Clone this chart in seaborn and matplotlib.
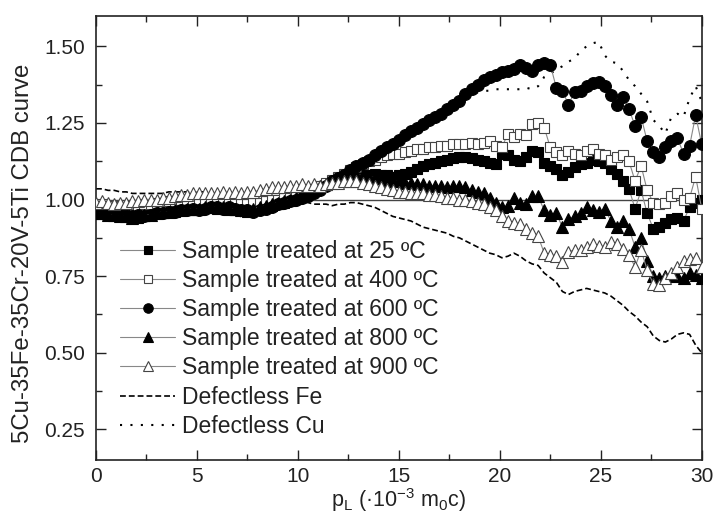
import numpy as np
import pandas as pd
import matplotlib
matplotlib.use("Agg")
import matplotlib.pyplot as plt
import seaborn as sns

# x positions (p_L, 10^-3 m0c), step 0.3
p_l = np.round(np.arange(0, 30.0001, 0.3), 2)

s25 = [0.96, 0.955, 0.955, 0.95, 0.95, 0.945, 0.945, 0.94, 0.945, 0.95,
       0.955, 0.955, 0.96, 0.96, 0.965, 0.97, 0.965, 0.97, 0.975, 0.975,
       0.97, 0.975, 0.97, 0.965, 0.965, 0.96, 0.965, 0.97, 0.975, 0.98,
       0.985, 0.99, 1.0, 1.005, 1.01, 1.02, 1.03, 1.04, 1.05, 1.055,
       1.06, 1.065, 1.07, 1.075, 1.08, 1.08, 1.085, 1.08, 1.08, 1.075,
       1.08, 1.085, 1.09, 1.10, 1.11, 1.115, 1.12, 1.125, 1.13, 1.135,
       1.14, 1.14, 1.135, 1.13, 1.125, 1.12, 1.115, 1.15, 1.145, 1.13,
       1.125, 1.14, 1.16, 1.155, 1.12, 1.11, 1.10, 1.08, 1.09, 1.105,
       1.115, 1.12, 1.13, 1.125, 1.12, 1.10, 1.085, 1.06, 1.035, 0.97,
       1.03, 0.955, 0.905, 0.91, 0.925, 0.935, 0.94, 0.93, 0.975, 0.99, 1.0]

s400 = [0.98, 0.985, 0.98, 0.98, 0.975, 0.975, 0.98, 0.98, 0.985, 0.985,
        0.99, 0.99, 0.995, 0.995, 1.0, 1.0, 1.0, 0.995, 1.0, 1.0,
        0.995, 0.995, 0.99, 0.99, 0.985, 0.985, 0.99, 0.99, 0.995, 1.0,
        1.0, 1.005, 1.01, 1.015, 1.02, 1.03, 1.035, 1.045, 1.055, 1.065,
        1.075, 1.085, 1.095, 1.105, 1.115, 1.125, 1.13, 1.14, 1.145, 1.15,
        1.15, 1.155, 1.16, 1.165, 1.165, 1.17, 1.17, 1.175, 1.175, 1.18,
        1.18, 1.18, 1.185, 1.18, 1.185, 1.19, 1.175, 1.17, 1.215, 1.205,
        1.215, 1.21, 1.245, 1.25, 1.235, 1.17, 1.155, 1.145, 1.16, 1.15,
        1.145, 1.16, 1.165, 1.15, 1.145, 1.13, 1.14, 1.145, 1.125, 1.06,
        1.11, 1.03, 0.99, 0.985, 0.99, 1.01, 1.02, 1.0, 1.005, 1.075, 0.97]

s600 = [0.955, 0.96, 0.955, 0.95, 0.955, 0.95, 0.945, 0.95, 0.945, 0.95,
        0.955, 0.955, 0.96, 0.96, 0.965, 0.965, 0.97, 0.965, 0.97, 0.975,
        0.975, 0.97, 0.975, 0.97, 0.965, 0.965, 0.96, 0.965, 0.97, 0.975,
        0.985, 0.99, 0.995, 1.0, 1.005, 1.01, 1.02, 1.03, 1.045, 1.06,
        1.07, 1.08, 1.095, 1.11, 1.12, 1.13, 1.145, 1.16, 1.17, 1.18,
        1.195, 1.21, 1.225, 1.235, 1.245, 1.26, 1.27, 1.28, 1.295, 1.31,
        1.32, 1.345, 1.36, 1.375, 1.39, 1.40, 1.405, 1.415, 1.42, 1.425,
        1.44, 1.43, 1.42, 1.44, 1.445, 1.44, 1.365, 1.355, 1.31, 1.35,
        1.355, 1.37, 1.38, 1.385, 1.37, 1.34, 1.31, 1.335, 1.295, 1.24,
        1.27, 1.19, 1.155, 1.14, 1.17, 1.19, 1.20, 1.15, 1.175, 1.275, 1.18]

s800 = [0.955, 0.955, 0.95, 0.95, 0.945, 0.945, 0.94, 0.945, 0.95, 0.95,
        0.955, 0.96, 0.96, 0.965, 0.965, 0.97, 0.97, 0.97, 0.975, 0.975,
        0.975, 0.975, 0.97, 0.97, 0.965, 0.965, 0.97, 0.975, 0.98, 0.985,
        0.99, 0.995, 1.0, 1.005, 1.015, 1.025, 1.035, 1.045, 1.05, 1.06,
        1.065, 1.07, 1.075, 1.08, 1.08, 1.075, 1.075, 1.07, 1.065, 1.06,
        1.06, 1.055, 1.055, 1.05, 1.05, 1.045, 1.045, 1.045, 1.04, 1.045,
        1.045, 1.04, 1.03, 1.025, 1.02, 1.005, 0.99, 0.975, 0.98, 1.005,
        0.99, 0.985, 1.01, 1.01, 0.965, 0.95, 0.955, 0.91, 0.935, 0.945,
        0.955, 0.975, 0.965, 0.96, 0.97, 0.93, 0.91, 0.93, 0.905, 0.845,
        0.875, 0.80, 0.75, 0.745, 0.75, 0.755, 0.75, 0.745, 0.76, 0.755, 0.745]

s900 = [0.99, 0.995, 0.99, 0.985, 0.99, 0.99, 0.995, 0.995, 1.0, 1.0,
        1.0, 1.005, 1.005, 1.01, 1.015, 1.015, 1.02, 1.02, 1.02, 1.02,
        1.02, 1.025, 1.02, 1.025, 1.02, 1.025, 1.025, 1.03, 1.035, 1.04,
        1.04, 1.04, 1.045, 1.045, 1.05, 1.045, 1.05, 1.045, 1.05, 1.055,
        1.055, 1.06, 1.06, 1.06, 1.055, 1.05, 1.045, 1.04, 1.035, 1.03,
        1.025, 1.025, 1.02, 1.02, 1.02, 1.015, 1.015, 1.01, 1.005, 1.005,
        1.0, 1.0, 0.995, 0.99, 0.985, 0.975, 0.965, 0.945, 0.93, 0.925,
        0.92, 0.905, 0.89, 0.88, 0.825, 0.82, 0.815, 0.795, 0.83, 0.835,
        0.835, 0.845, 0.855, 0.85, 0.845, 0.86, 0.855, 0.84, 0.82, 0.78,
        0.835, 0.77, 0.725, 0.72, 0.745, 0.76, 0.78, 0.80, 0.805, 0.81, 0.78]

fe = [1.035, 1.035, 1.03, 1.03, 1.025, 1.025, 1.02, 1.02, 1.02, 1.02,
      1.02, 1.02, 1.025, 1.025, 1.025, 1.025, 1.02, 1.025, 1.025, 1.02,
      1.02, 1.02, 1.015, 1.015, 1.01, 1.01, 1.005, 1.005, 1.0, 1.0,
      1.0, 0.995, 0.995, 0.995, 0.99, 0.99, 0.985, 0.985, 0.985, 0.98,
      0.985, 0.985, 0.99, 0.99, 0.985, 0.98, 0.975, 0.965, 0.955, 0.945,
      0.94, 0.935, 0.93, 0.92, 0.91, 0.905, 0.90, 0.895, 0.89, 0.88,
      0.875, 0.865, 0.855, 0.845, 0.835, 0.825, 0.82, 0.81, 0.815, 0.825,
      0.815, 0.80, 0.79, 0.785, 0.76, 0.745, 0.73, 0.70, 0.69, 0.70,
      0.705, 0.71, 0.705, 0.70, 0.695, 0.685, 0.67, 0.655, 0.635, 0.62,
      0.60, 0.585, 0.555, 0.54, 0.535, 0.545, 0.56, 0.565, 0.56, 0.525, 0.50]

cu = [0.95, 0.95, 0.945, 0.945, 0.94, 0.945, 0.94, 0.94, 0.945, 0.945,
      0.95, 0.95, 0.955, 0.955, 0.96, 0.96, 0.965, 0.96, 0.965, 0.965,
      0.965, 0.96, 0.955, 0.95, 0.945, 0.945, 0.95, 0.955, 0.96, 0.965,
      0.97, 0.975, 0.985, 0.99, 1.0, 1.01, 1.02, 1.03, 1.04, 1.055,
      1.065, 1.075, 1.09, 1.10, 1.115, 1.125, 1.14, 1.15, 1.165, 1.175,
      1.19, 1.20, 1.215, 1.23, 1.245, 1.255, 1.265, 1.28, 1.295, 1.31,
      1.32, 1.33, 1.34, 1.35, 1.355, 1.355, 1.36, 1.36, 1.36, 1.36,
      1.36, 1.365, 1.36, 1.37, 1.40, 1.41, 1.425, 1.435, 1.45, 1.46,
      1.485, 1.50, 1.51, 1.515, 1.47, 1.45, 1.445, 1.42, 1.39, 1.37,
      1.345, 1.32, 1.26, 1.24, 1.215, 1.27, 1.28, 1.27, 1.33, 1.37, 1.32]

labels = ["Sample treated at 25 ºC", "Sample treated at 400 ºC",
          "Sample treated at 600 ºC", "Sample treated at 800 ºC",
          "Sample treated at 900 ºC", "Defectless Fe", "Defectless Cu"]
x_ticks = [0, 5, 10, 15, 20, 25, 30]
y_ticks = [0.25, 0.50, 0.75, 1.00, 1.25, 1.50]

sns.set_style("ticks")
plt.rcParams['font.family'] = ['Liberation Sans', 'DejaVu Sans']
plt.rcParams['mathtext.fontset'] = 'custom'
plt.rcParams['mathtext.rm'] = 'Liberation Sans'

fig = plt.figure(figsize=(7.13, 5.17), dpi=100)
ax = fig.add_axes([96/713, 1 - 460/517, (701.7 - 96)/713, (460 - 15.7)/517])

ax.axhline(1.0, color="#444444", lw=1.0, zorder=1)

styles = [
    (s25, "s", "black", 7.5),
    (s400, "s", "white", 7.5),
    (s600, "o", "black", 8.5),
    (s800, "^", "black", 8.5),
    (s900, "^", "white", 8.5),
]
for (vals, mk, fc, ms), lab in zip(styles, labels[:5]):
    sns.lineplot(x=p_l, y=vals, ax=ax, color="#888888", lw=0.8,
                 marker=mk, markersize=ms, markerfacecolor=fc,
                 markeredgecolor="black" if fc == "black" else "#444444",
                 markeredgewidth=0.8, label=lab, zorder=3)

sns.lineplot(x=p_l, y=fe, ax=ax, color="black", lw=1.2,
             linestyle=(0, (3.5, 1.8)), label=labels[5], zorder=2)
sns.lineplot(x=p_l, y=cu, ax=ax, color="black", lw=1.5,
             linestyle=(0, (1, 4)), label=labels[6], zorder=2)

ax.set_xlim(0, 30)
ax.set_ylim(0.15, 1.60)
ax.set_xticks(x_ticks)
ax.set_xticklabels([str(t) for t in x_ticks])
ax.set_yticks(y_ticks)
ax.set_yticklabels([f"{t:.2f}" for t in y_ticks])
ax.set_xticks(np.arange(2.5, 30, 5), minor=True)
ax.set_yticks(np.arange(0.375, 1.6, 0.25), minor=True)
ax.tick_params(which="both", direction="in", top=True, right=True,
               colors="#222222", labelcolor="#222222")
ax.tick_params(which="major", length=7, width=1.0, labelsize=15, pad=8)
ax.tick_params(axis="x", which="major", pad=5)
ax.tick_params(which="minor", length=4, width=1.0)
for sp in ax.spines.values():
    sp.set_linewidth(1.2)
    sp.set_color("#222222")

ax.set_xlabel(r"p$_\mathregular{L}$ (·10$^\mathregular{-3}$ m$_\mathregular{0}$c)",
              fontsize=15.5, color="#222222", labelpad=0)
ax.set_ylabel("5Cu-35Fe-35Cr-20V-5Ti CDB curve", fontsize=17.3,
              color="#222222")
ax.yaxis.set_label_coords(-0.102, 0.465)

leg = ax.legend(loc="upper left", bbox_to_anchor=(0.04, 0.496),
                frameon=False, fontsize=16.5, handlelength=2.4,
                handletextpad=0.3, labelspacing=0.27, borderpad=0,
                borderaxespad=0, markerscale=0.8)
for t in leg.get_texts():
    t.set_color("#222222")

fig.savefig("out.png", dpi=100)
